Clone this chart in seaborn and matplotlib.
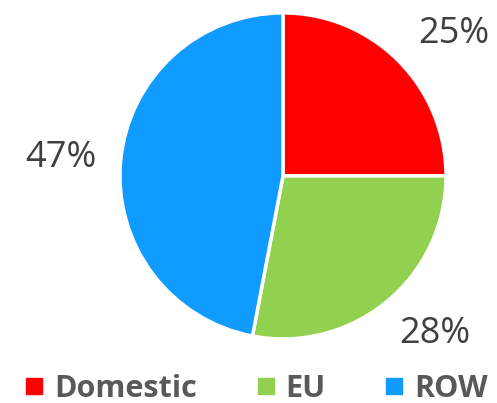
import matplotlib
matplotlib.use('Agg')
import matplotlib.pyplot as plt
from matplotlib.lines import Line2D
import seaborn as sns

labels = ['Domestic', 'EU', 'ROW']
shares = [25, 28, 47]
colors = ['#FF0000', '#92D050', '#0F9BFF']
# where the percentage labels sit, in pie radius units
label_pos = [(1.05, 0.87), (0.93, -0.97), (-1.36, 0.11)]

sns.set_style('white')
plt.rcParams['font.family'] = ['Open Sans', 'DejaVu Sans']

fig = plt.figure(figsize=(4.97, 4.03), dpi=100)
ax = fig.add_axes([0.2414, 0.159, 0.656, 0.809])
wedges, texts, autotexts = ax.pie(
    shares, colors=sns.color_palette(colors), startangle=90, counterclock=False,
    autopct='%d%%', pctdistance=1.36, radius=1.0,
    wedgeprops=dict(edgecolor='white', linewidth=2.5),
    textprops=dict(fontsize=26, color='#404040'))
for t, p in zip(autotexts, label_pos):
    t.set_position(p)
ax.set_xlim(-1, 1)
ax.set_ylim(-1, 1)
ax.set_aspect('equal')
ax.axis('off')

handles = [Line2D([0], [0], marker='s', linestyle='', markersize=11.5,
                  markerfacecolor=c, markeredgecolor=c) for c in colors]
leg = fig.legend(handles, labels, loc='lower center', bbox_to_anchor=(0.51, -0.07),
                 ncol=3, frameon=False, handletextpad=0.15, columnspacing=1.75,
                 handlelength=1.0, prop=dict(size=22, weight='bold', family='Open Sans'))
for t in leg.get_texts():
    t.set_color('#595959')

fig.savefig('out.png', dpi=100)
